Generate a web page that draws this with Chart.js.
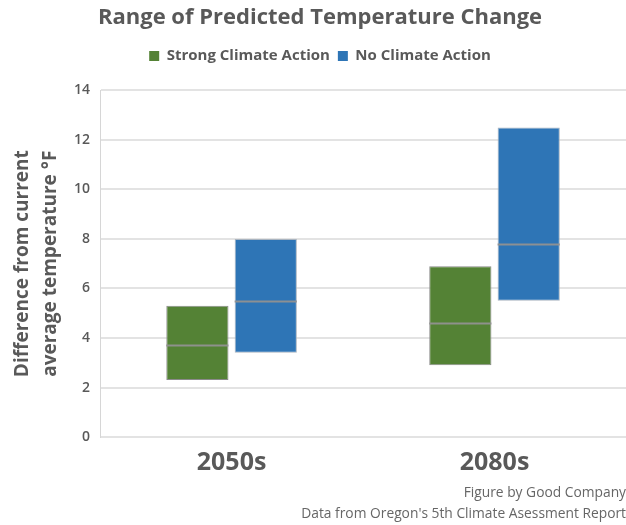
<!DOCTYPE html>
<html>
<head>
<meta charset="utf-8">
<script src="https://cdn.jsdelivr.net/npm/chart.js@4/dist/chart.umd.min.js"></script>
<style>
  html, body { margin: 0; padding: 0; background: #fff; }
  #wrap { width: 626px; height: 525px; }
</style>
</head>
<body>
<div id="wrap"><canvas id="c" width="626" height="525"></canvas></div>
<script>
// Projected warming ranges (°F above current average)
const periods = ['2050s', '2080s'];
const strongLow = [2.3, 2.9];
const strongMedian = [3.7, 4.6];
const strongHigh = [5.3, 6.9];
const noneLow = [3.4, 5.5];
const noneMedian = [5.5, 7.8];
const noneHigh = [8.0, 12.5];
const yTicks = [0, 2, 4, 6, 8, 10, 12, 14];

const FONT = '"Open Sans", sans-serif';
const GREY = '#595959';

const ranges = (lo, hi) => lo.map((v, i) => [v, hi[i]]);

// Draws the median line across each floating bar
const medianLines = {
  id: 'medianLines',
  afterDatasetsDraw(chart) {
    const ctx = chart.ctx;
    const y = chart.scales.y;
    const medians = [strongMedian, noneMedian];
    medians.forEach((vals, di) => {
      const meta = chart.getDatasetMeta(di);
      meta.data.forEach((bar, i) => {
        const py = Math.round(y.getPixelForValue(vals[i])) + 0.5;
        const half = bar.width / 2;
        ctx.save();
        ctx.strokeStyle = 'rgba(145,145,145,0.95)';
        ctx.lineWidth = 2;
        ctx.beginPath();
        ctx.moveTo(bar.x - half, py);
        ctx.lineTo(bar.x + half, py);
        ctx.stroke();
        ctx.restore();
      });
    });
  }
};

// Extra room under the legend; header block centred slightly right of the canvas middle
const headerLayout = {
  id: 'headerLayout',
  beforeInit(chart) {
    const fit = chart.legend.fit;
    chart.legend.fit = function () {
      fit.call(this);
      this.height += 17;
    };
  },
  afterLayout(chart) {
    [chart.titleBlock, chart.legend].forEach(box => {
      if (box) { box.left = 14; box.right = 626; }
    });
  }
};

new Chart(document.getElementById('c'), {
  type: 'bar',
  data: {
    labels: periods,
    datasets: [
      {
        label: 'Strong Climate Action',
        data: ranges(strongLow, strongHigh),
        backgroundColor: '#548235',
        borderColor: '#8a8a8a',
        borderWidth: 1,
        borderSkipped: false,
        barPercentage: 0.91,
        categoryPercentage: 0.52
      },
      {
        label: 'No Climate Action',
        data: ranges(noneLow, noneHigh),
        backgroundColor: '#2E75B6',
        borderColor: '#a9b4c0',
        borderWidth: 1,
        borderSkipped: false,
        barPercentage: 0.91,
        categoryPercentage: 0.52
      }
    ]
  },
  options: {
    responsive: false,
    animation: false,
    layout: { padding: { left: 9, right: 0, top: 2, bottom: 0 } },
    plugins: {
      title: {
        display: true,
        text: 'Range of Predicted Temperature Change',
        color: GREY,
        font: { family: FONT, size: 22, weight: 'bold' },
        padding: { top: 3, bottom: 9 }
      },
      legend: {
        display: true,
        labels: {
          color: GREY,
          font: { family: FONT, size: 15, weight: 'bold' },
          boxWidth: 10,
          boxHeight: 10,
          padding: 8,
          generateLabels(chart) {
            return chart.data.datasets.map((d, i) => ({
              text: d.label,
              fillStyle: d.backgroundColor,
              strokeStyle: d.backgroundColor,
              lineWidth: 0,
              fontColor: GREY,
              datasetIndex: i
            }));
          }
        }
      },
      subtitle: {
        display: true,
        position: 'bottom',
        align: 'end',
        text: ['Figure by Good Company', "Data from Oregon's 5th Climate Asessment Report"],
        color: '#666',
        font: { family: FONT, size: 13.8, weight: 'normal', lineHeight: 1.52 },
        padding: { top: 5, bottom: 0 }
      },
      tooltip: { enabled: false }
    },
    scales: {
      x: {
        grid: { display: false, drawTicks: false },
        border: { display: false },
        ticks: {
          color: GREY,
          font: { family: FONT, size: 25, weight: 'bold' },
          padding: 11
        },
        afterFit(scale) {
          scale.height -= 11;
        }
      },
      y: {
        min: 0,
        max: 14,
        afterBuildTicks(axis) {
          axis.ticks = yTicks.map(v => ({ value: v }));
        },
        grid: { color: '#e3e3e3', lineWidth: 2, drawTicks: false },
        border: { display: true, color: '#d6d6d6', width: 1 },
        ticks: {
          color: GREY,
          font: { family: FONT, size: 14, weight: '600' },
          padding: 10
        },
        title: {
          display: true,
          text: ['Difference from current', 'average temperature °F'],
          color: GREY,
          font: { family: FONT, size: 19, weight: 'bold', lineHeight: 1.45 },
          padding: { top: 0, bottom: 0 }
        }
      }
    }
  },
  plugins: [medianLines, headerLayout]
});
</script>
</body>
</html>
